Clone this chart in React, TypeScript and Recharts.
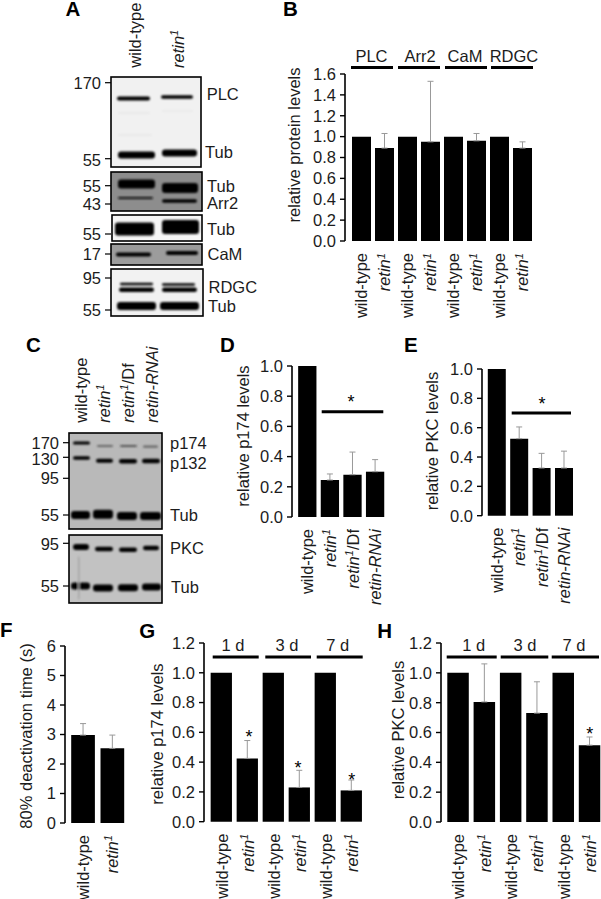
import { BarChart, Bar, XAxis, YAxis, ErrorBar } from 'recharts';

const FONT = '"Liberation Sans", Arial, sans-serif';
const INK = '#1c1c1c';

// values
const proteinNames = ['wild-type', 'retin1', 'wild-type', 'retin1', 'wild-type', 'retin1', 'wild-type', 'retin1'];
const proteinValues = [1, 0.89, 1, 0.95, 1, 0.96, 1, 0.89];
const proteinErrors = [null, 0.14, null, 0.58, null, 0.07, null, 0.06];

const alleleNames = ['wild-type', 'retin1', 'retin1/Df', 'retin-RNAi'];
const p174Values = [1, 0.245, 0.28, 0.3];
const p174Errors = [null, 0.04, 0.15, 0.08];
const pkcValues = [1, 0.525, 0.325, 0.325];
const pkcErrors = [null, 0.08, 0.1, 0.115];

const deactNames = ['wild-type', 'retin1'];
const deactValues = [2.98, 2.53];
const deactErrors = [0.39, 0.45];

const ageNames = ['wild-type', 'retin1', 'wild-type', 'retin1', 'wild-type', 'retin1'];
const p174AgeValues = [1, 0.425, 1, 0.23, 1, 0.21];
const p174AgeErrors = [null, 0.12, null, 0.115, null, 0.07];
const pkcAgeValues = [1, 0.805, 1, 0.73, 1, 0.515];
const pkcAgeErrors = [null, 0.255, null, 0.21, null, 0.055];

const ticks16 = [0, 0.2, 0.4, 0.6, 0.8, 1, 1.2, 1.4, 1.6];
const ticks10 = [0, 0.2, 0.4, 0.6, 0.8, 1];
const ticks12 = [0, 0.2, 0.4, 0.6, 0.8, 1, 1.2];
const ticksDeact = [0, 1, 2, 3, 4, 5, 6];

function Rich({ name, size = 16.5 }: { name: string; size?: number }) {
  if (name === 'retin-RNAi') return <tspan fontStyle="italic">{name}</tspan>;
  if (name.startsWith('retin1')) {
    const rest = name.slice(6);
    return (
      <>
        <tspan fontStyle="italic">retin</tspan>
        <tspan fontStyle="italic" fontSize={size * 0.68} dy={-size * 0.36}>1</tspan>
        {rest && <tspan dy={size * 0.36}>{rest}</tspan>}
      </>
    );
  }
  return <tspan>{name}</tspan>;
}

function NameTick({ x, y, payload }: any) {
  const ty = y + 4;
  return (
    <text
      x={x}
      y={ty}
      transform={`rotate(-90 ${x} ${ty})`}
      textAnchor="end"
      dy="0.36em"
      fontSize={16.5}
      fontFamily={FONT}
      fill={INK}
    >
      <Rich name={payload.value} />
    </text>
  );
}

type PanelProps = {
  names: string[];
  values: number[];
  errors: (number | null)[];
  ticks: number[];
  axisX: number;
  y0: number;
  yTop: number;
  firstBar: number;
  pitch: number;
  barW: number;
  decimals?: number;
};

function Panel({ names, values, errors, ticks, axisX, y0, yTop, firstBar, pitch, barW, decimals = 1 }: PanelProps) {
  const table = names.map((name, i) => ({
    name,
    value: values[i],
    err: errors[i] == null ? null : [0, errors[i]],
  }));
  const yW = 50;
  const xH = 100;
  const topPad = 12;
  const padLeft = firstBar + barW / 2 - pitch / 2 - axisX;
  const plotW = padLeft + names.length * pitch;
  return (
    <div style={{ position: 'absolute', left: axisX - yW, top: yTop - topPad }}>
      <BarChart
        width={yW + plotW}
        height={y0 - yTop + topPad + xH}
        data={table}
        margin={{ top: topPad, right: 0, bottom: 0, left: 0 }}
      >
        <XAxis
          dataKey="name"
          axisLine={false}
          tickLine={false}
          height={xH}
          interval={0}
          padding={{ left: padLeft, right: 0 }}
          tick={<NameTick />}
        />
        <YAxis
          type="number"
          width={yW}
          domain={[ticks[0], ticks[ticks.length - 1]]}
          ticks={ticks}
          interval={0}
          tickSize={5}
          tickMargin={4}
          tickFormatter={(v: number) => v.toFixed(decimals)}
          tick={{ fontSize: 16.5, fontFamily: FONT, fill: INK }}
          axisLine={{ stroke: '#000', strokeWidth: 1.6 }}
          tickLine={{ stroke: '#000', strokeWidth: 1.4 }}
        />
        <Bar dataKey="value" fill="#000" barSize={barW} isAnimationActive={false}>
          <ErrorBar dataKey="err" direction="y" width={3} stroke="#999" strokeWidth={1} isAnimationActive={false} />
        </Bar>
      </BarChart>
    </div>
  );
}

// panel furniture, in page pixels
const panelLetters = [
  ['A', 65.5, 15.7], ['B', 283, 15.7], ['C', 26, 351.7], ['D', 220, 351.7], ['E', 404, 351.7],
  ['F', 0, 637], ['G', 139.3, 637.7], ['H', 377.3, 637.7],
] as const;

const yTitles = [
  ['relative protein levels', 294, 145],
  ['relative p174 levels', 243, 436],
  ['relative PKC levels', 431.7, 441],
  ['80% deactivation time (s)', 26, 736],
  ['relative p174 levels', 156.7, 734],
  ['relative PKC levels', 398.3, 730],
] as const;

const groupRules = [
  [351, 393, 67.5], [398, 440, 67.5], [445, 487, 67.5], [491, 533, 67.5],
  [321.7, 383.3, 411.7], [511.7, 571, 413],
  [212.7, 258.7, 657], [265.3, 311, 657], [316.7, 362.7, 657],
  [446.7, 496.7, 657], [500.7, 548.3, 657], [551.7, 599, 657],
] as const;

const groupLabels = [
  ['PLC', 371.5, 62], ['Arr2', 420, 62], ['CaM', 465, 62], ['RDGC', 514, 62],
  ['1 d', 233, 650.7], ['3 d', 287, 650.7], ['7 d', 337.7, 650.7],
  ['1 d', 473.7, 650.7], ['3 d', 525, 650.7], ['7 d', 574, 650.7],
] as const;

const stars = [
  [351, 398], [542, 400], [249, 733], [298, 764], [351.7, 775.7], [589.7, 730],
] as const;

// western blots: frame x0,y0,x1,y1,fill
const blotFrames = [
  [111, 77, 201, 167, '#f1f1f1'],
  [111, 172, 202, 211, '#8d8d8d'],
  [112, 215, 202, 241, '#f6f6f6'],
  [111, 244, 202, 265, '#9c9c9c'],
  [111, 269, 203, 316, '#f2f2f2'],
  [69, 433, 162, 529, '#b9b9b9'],
  [69, 535, 162, 603, '#c2c2c2'],
] as const;

// band x0,x1,cy,thickness,colour
const blotBands = [
  [118, 150, 113, 2, '#e9e9e9'], [162, 193, 111, 2, '#eaeaea'], [118, 152, 135, 2, '#e9e9e9'],
  [117, 150, 98.5, 4, '#000'], [161, 193, 97, 3.6, '#000'],
  [118, 155, 155, 7, '#000'], [162, 197, 153, 7, '#000'],
  [118, 155, 184, 9, '#000'], [162, 198, 188, 10, '#000'],
  [118, 153, 198, 2.2, '#111'], [162, 197, 201, 3.6, '#000'],
  [115, 154, 229, 13, '#000'], [162, 199, 227, 14, '#000'],
  [116, 151, 254.5, 3.8, '#000'], [166, 198, 253, 3.8, '#000'],
  [120, 153, 284, 2.6, '#000'], [162, 195, 284.5, 2.6, '#000'],
  [119, 154, 289.7, 4.4, '#000'], [162, 197, 289.7, 4.4, '#000'],
  [117, 156, 306, 8, '#000'], [160, 199, 306, 8, '#000'],
  [73, 90, 443, 3.2, '#000'], [97, 113, 446, 1.8, '#666'], [120, 137, 446, 2.2, '#555'], [143, 158, 446.7, 2.2, '#666'],
  [73, 90, 458, 3.6, '#000'], [96, 113, 460.7, 4, '#000'], [119, 137, 461.3, 4.4, '#000'], [142, 160, 461, 4.4, '#000'],
  [71, 90, 515, 8, '#000'], [93, 113, 514.3, 9, '#000'], [117, 137, 516, 8, '#000'], [140, 161, 516, 8, '#000'],
  [73, 89, 547, 6, '#000'], [95, 113, 549, 4.4, '#000'], [119, 137, 549.7, 4.4, '#000'], [143, 159, 548, 4.4, '#000'],
  [71, 90, 586, 7, '#000'], [93, 113, 588, 7, '#000'], [118, 138, 587.7, 7, '#000'], [142, 161, 587, 7, '#000'],
  [78, 79.5, 578, 44, '#a4a4a4'],
] as const;

// tick label, tick y, label y, tick x0, tick x1
const mwMarks = [
  ['170', 82.7, 82.7, 105, 111], ['55', 158.7, 160, 105, 111], ['55', 185.7, 185.7, 105, 111],
  ['43', 204, 204, 105, 111], ['55', 234, 234, 105, 111], ['17', 254, 254, 105, 111],
  ['95', 278, 278, 105, 111], ['55', 310, 310, 105, 111],
  ['170', 442.7, 442.7, 63, 69], ['130', 457.3, 459, 63, 69], ['95', 478.3, 478.3, 63, 69],
  ['55', 515, 515, 63, 69], ['95', 543.3, 544, 63, 69], ['55', 586, 586, 63, 69],
] as const;

const blotNames = [
  ['PLC', 206.7, 94], ['Tub', 205, 152], ['Tub', 207, 186], ['Arr2', 207, 203], ['Tub', 207, 229],
  ['CaM', 207.5, 254], ['RDGC', 208.5, 287], ['Tub', 208, 306],
  ['p174', 170, 443.3], ['p132', 170, 463], ['Tub', 170, 515], ['PKC', 170, 548], ['Tub', 171, 587],
] as const;

const laneNames = [
  ['wild-type', 135, 67.7], ['retin1', 177.7, 68],
  ['wild-type', 81, 422.7], ['retin1', 104, 422.7], ['retin1/Df', 128.3, 422.7], ['retin-RNAi', 151.7, 422.7],
] as const;

function Overlay() {
  return (
    <svg
      width={601}
      height={899}
      style={{ position: 'absolute', left: 0, top: 0, pointerEvents: 'none' }}
      fontFamily={FONT}
      fill={INK}
      fontSize={16.5}
    >
      <defs>
        <filter id="blot" x="-20%" y="-60%" width="140%" height="220%">
          <feGaussianBlur stdDeviation="0.8" />
        </filter>
      </defs>
      {blotFrames.map(([x0, y0, x1, y1, fill], i) => (
        <rect key={i} x={x0} y={y0} width={x1 - x0} height={y1 - y0} fill={fill} />
      ))}
      <g filter="url(#blot)">
        {blotBands.map(([x0, x1, cy, t, c], i) => (
          <rect key={i} x={x0} y={cy - t / 2} width={x1 - x0} height={t} rx={Math.min(t / 2, 3)} fill={c} />
        ))}
      </g>
      {blotFrames.map(([x0, y0, x1, y1], i) => (
        <rect key={i} x={x0} y={y0} width={x1 - x0} height={y1 - y0} fill="none" stroke="#000" strokeWidth={1.6} />
      ))}
      {mwMarks.map(([label, ty, ly, x0, x1], i) => (
        <g key={i}>
          <line x1={x0} x2={x1} y1={ty} y2={ty} stroke="#000" strokeWidth={1.2} />
          <text x={x0 - 4} y={ly} dy="0.36em" textAnchor="end">{label}</text>
        </g>
      ))}
      {blotNames.map(([label, x, y], i) => (
        <text key={i} x={x} y={y} dy="0.36em">{label}</text>
      ))}
      {laneNames.map(([label, x, y], i) => (
        <text key={i} x={x} y={y} dy="0.36em" transform={`rotate(-90 ${x} ${y})`}>
          <Rich name={label} />
        </text>
      ))}
      {panelLetters.map(([label, x, y]) => (
        <text key={label} x={x} y={y} fontSize={20.5} fontWeight="bold" fill="#000">{label}</text>
      ))}
      {yTitles.map(([label, x, y], i) => (
        <text key={i} x={x} y={y} dy="0.36em" textAnchor="middle" transform={`rotate(-90 ${x} ${y})`}>{label}</text>
      ))}
      {groupRules.map(([x0, x1, y], i) => (
        <line key={i} x1={x0} x2={x1} y1={y} y2={y} stroke="#000" strokeWidth={3} />
      ))}
      {groupLabels.map(([label, x, y], i) => (
        <text key={i} x={x} y={y} textAnchor="middle">{label}</text>
      ))}
      {stars.map(([x, y], i) => (
        <text key={i} x={x} y={y} dy="0.55em" textAnchor="middle" fontSize={18} fill="#000">*</text>
      ))}
    </svg>
  );
}

export default function App() {
  return (
    <div style={{ position: 'absolute', left: 0, top: 0, width: 601, height: 899, overflow: 'hidden', background: '#fff' }}>
      <Panel names={proteinNames} values={proteinValues} errors={proteinErrors} ticks={ticks16}
        axisX={345} y0={241} yTop={74} firstBar={352} pitch={23} barW={19} />
      <Panel names={alleleNames} values={p174Values} errors={p174Errors} ticks={ticks10}
        axisX={291.7} y0={517} yTop={366} firstBar={298} pitch={22.6} barW={18.3} />
      <Panel names={alleleNames} values={pkcValues} errors={pkcErrors} ticks={ticks10}
        axisX={482} y0={516} yTop={369.3} firstBar={488} pitch={22.4} barW={18} />
      <Panel names={deactNames} values={deactValues} errors={deactErrors} ticks={ticksDeact} decimals={0}
        axisX={65} y0={822.7} yTop={645.7} firstBar={71} pitch={29.3} barW={23.7} />
      <Panel names={ageNames} values={p174AgeValues} errors={p174AgeErrors} ticks={ticks12}
        axisX={204} y0={822} yTop={643.3} firstBar={211} pitch={26} barW={21.3} />
      <Panel names={ageNames} values={pkcAgeValues} errors={pkcAgeErrors} ticks={ticks12}
        axisX={441} y0={822} yTop={643} firstBar={447.7} pitch={26.3} barW={21.5} />
      <Overlay />
    </div>
  );
}
